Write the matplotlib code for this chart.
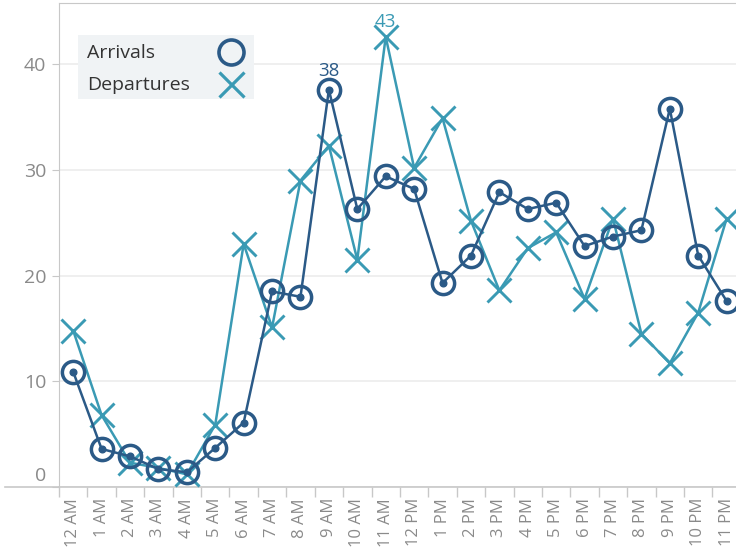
"""Hourly arrivals and departures, line chart with ring / cross markers."""

import matplotlib

matplotlib.use("Agg")
import matplotlib.pyplot as plt
from matplotlib.lines import Line2D
from matplotlib.patches import Rectangle
from matplotlib.transforms import ScaledTranslation

HOURS = ["12 AM", "1 AM", "2 AM", "3 AM", "4 AM", "5 AM", "6 AM", "7 AM",
         "8 AM", "9 AM", "10 AM", "11 AM", "12 PM", "1 PM", "2 PM", "3 PM",
         "4 PM", "5 PM", "6 PM", "7 PM", "8 PM", "9 PM", "10 PM", "11 PM"]
ARRIVALS = [10.9, 3.6, 2.9, 1.7, 1.4, 3.7, 6.1, 18.5, 18.0, 37.6, 26.3, 29.4,
            28.2, 19.3, 21.9, 27.9, 26.3, 26.9, 22.8, 23.7, 24.3, 35.8, 21.9, 17.6]
DEPARTURES = [14.8, 6.8, 2.3, 1.8, 1.2, 5.9, 23.0, 15.1, 29.0, 32.3, 21.5, 42.6,
              30.2, 34.9, 25.2, 18.6, 22.6, 24.1, 17.8, 25.4, 14.5, 11.7, 16.5, 25.4]
Y_TICKS = [0, 10, 20, 30, 40]
SERIES = ["Arrivals", "Departures"]

ARR_COLOR = "#2b5a87"
DEP_COLOR = "#3a9ab4"
GRID_COLOR = "#ececec"
AXIS_COLOR = "#c8c8c8"
TICK_TEXT = "#8a8a8a"

W, H = 736, 550
plt.rcParams["font.family"] = ["Open Sans", "DejaVu Sans"]

fig = plt.figure(figsize=(W / 100, H / 100), dpi=100)
ax = fig.add_axes([59 / W, 63 / H, 1 - 59 / W, 484 / H])

x = list(range(len(HOURS)))

ax.plot(x, DEPARTURES, color=DEP_COLOR, lw=1.8, marker="x", ms=17, mew=2.1, zorder=3)
ax.plot(x, ARRIVALS, color=ARR_COLOR, lw=1.8, marker="o", ms=4.8, zorder=4)
ax.plot(x, ARRIVALS, ls="none", marker="o", ms=16, mfc="none", mec=ARR_COLOR,
        mew=2.5, zorder=4)

# labels on the peaks
i_arr = ARRIVALS.index(max(ARRIVALS))
ax.annotate(f"{round(ARRIVALS[i_arr])}", (i_arr, ARRIVALS[i_arr]), xytext=(0, 7),
            textcoords="offset points", ha="center", va="bottom", fontsize=13.5,
            color=ARR_COLOR)
i_dep = DEPARTURES.index(max(DEPARTURES))
ax.annotate(f"{round(DEPARTURES[i_dep])}", (i_dep, DEPARTURES[i_dep]), xytext=(0, 4),
            textcoords="offset points", ha="center", va="bottom", fontsize=13.5,
            color=DEP_COLOR)

ax.set_xlim(-0.5, 23.33)
ax.set_ylim(0, 45.8)

ax.set_yticks(Y_TICKS)
ax.set_yticklabels([str(t) for t in Y_TICKS], color=TICK_TEXT, fontsize=14)
ax.yaxis.grid(True, color=GRID_COLOR, lw=1.2)
ax.set_axisbelow(True)
ax.tick_params(axis="y", length=5, color=AXIS_COLOR, pad=4)
# bottom label is lifted above the axis line
zero = ax.get_yticklabels()[0]
zero.set_transform(zero.get_transform() + ScaledTranslation(0, 13 / 100, fig.dpi_scale_trans))

ax.set_xticks(x)
ax.set_xticklabels(HOURS, rotation=90, color=TICK_TEXT, fontsize=12)
ax.set_xticks([i - 0.5 for i in x], minor=True)
ax.tick_params(axis="x", which="major", length=0, pad=8)
ax.tick_params(axis="x", which="minor", length=7, color=AXIS_COLOR, width=1)

ax.spines["right"].set_visible(False)
for side in ("top", "left", "bottom"):
    ax.spines[side].set_color(AXIS_COLOR)
ax.spines["bottom"].set_linewidth(1.2)

# axis line reaches past the left spine
fig.add_artist(Line2D([5 / W, 59 / W], [63 / H, 63 / H], color=AXIS_COLOR, lw=1.2))

# legend box, drawn by hand so text sits left and markers right
fig.add_artist(Rectangle((78 / W, 1 - 99 / H), 176 / W, 64 / H, transform=fig.transFigure,
                         facecolor="#f0f3f5", edgecolor="none", zorder=5))
for name, ypx in zip(SERIES, [53, 85]):
    fig.text(87 / W, 1 - ypx / H, name, ha="left", va="center", fontsize=14,
             color="#333333", zorder=6)
fig.add_artist(Line2D([231 / W], [1 - 52 / H], ls="none", marker="o", ms=18, mfc="none",
                      mec=ARR_COLOR, mew=2.6, zorder=6))
fig.add_artist(Line2D([231 / W], [1 - 84 / H], ls="none", marker="x", ms=18, mew=2.3,
                      color=DEP_COLOR, zorder=6))

fig.savefig("out.png", dpi=100)
